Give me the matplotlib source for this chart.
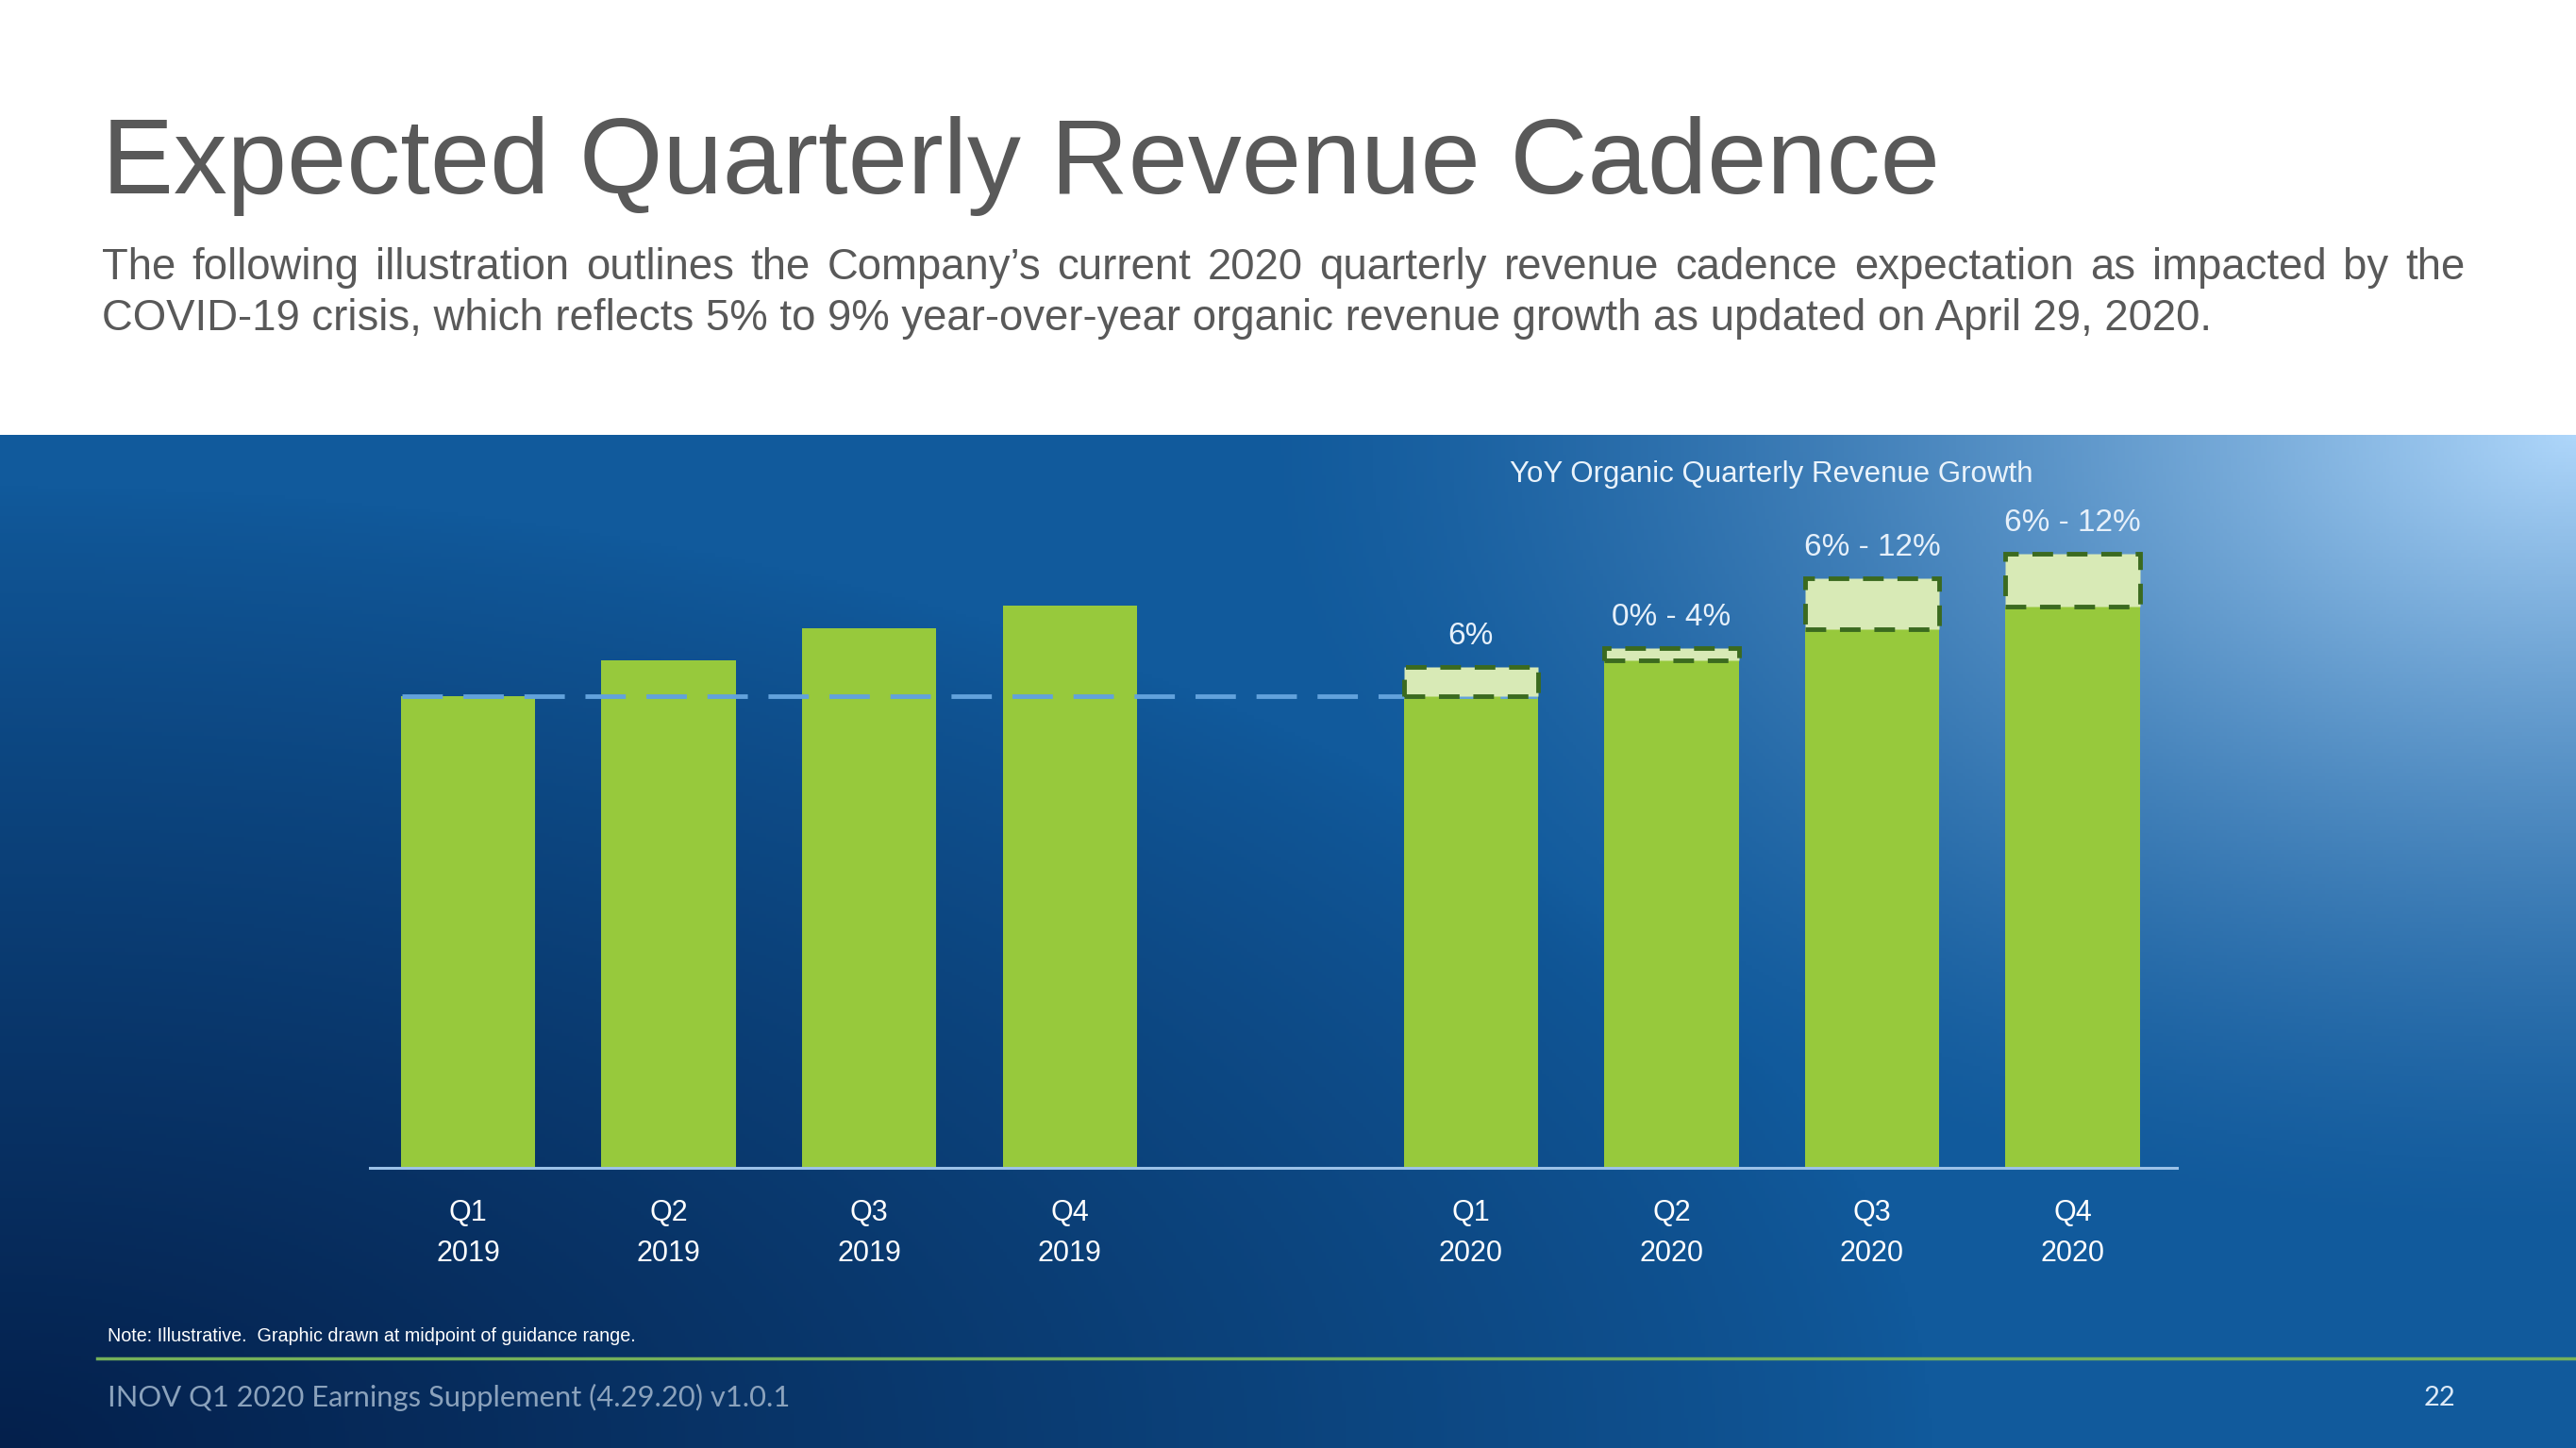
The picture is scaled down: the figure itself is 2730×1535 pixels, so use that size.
import numpy as np
import matplotlib
matplotlib.use('Agg')
import matplotlib.pyplot as plt
from matplotlib.lines import Line2D

# Data (illustrative index, Q1 2019 = 100)
quarters = ['Q1\n2019', 'Q2\n2019', 'Q3\n2019', 'Q4\n2019',
            'Q1\n2020', 'Q2\n2020', 'Q3\n2020', 'Q4\n2020']
positions = [0, 1, 2, 3, 5, 6, 7, 8]
bar_values = [100, 107.6, 114.4, 119.2, 100, 107.6, 114.2, 119.0]
range_low = [100, 107.6, 114.2, 119.0]
range_high = [106.2, 110.2, 125.0, 130.2]
range_labels = ['6%', '0% - 4%', '6% - 12%', '6% - 12%']
baseline_value = 100

W, H = 2730, 1535
font = 'Liberation Sans'
plt.rcParams['font.family'] = [font, 'DejaVu Sans']

fig = plt.figure(figsize=(W / 100, H / 100), dpi=100, facecolor='white')

# gradient background panel
panel_top = 461
bg = fig.add_axes([0, 0, 1, (H - panel_top) / H])
gw, gh = 760, 300
u = np.linspace(0, 1, gw)[None, :]
v = np.linspace(0, 1, gh)[:, None]
base = np.array([0x11, 0x5a, 0x9c]) / 255
dark = np.array([0x04, 0x20, 0x4c]) / 255
light = np.array([0xae, 0xd6, 0xfa]) / 255
dl = np.sqrt(((1 - u) / 0.52) ** 2 + (v / 0.8) ** 2)
wl = np.clip(1 - dl, 0, 1) ** 1.5
dd = np.sqrt((u / 0.75) ** 2 + ((1 - v) / 0.95) ** 2)
wd = np.clip(1 - dd, 0, 1) ** 0.85
img = base + wl[..., None] * (light - base) + wd[..., None] * (dark - base)
bg.imshow(np.clip(img, 0, 1), aspect='auto', extent=[0, 1, 0, 1])
bg.set_axis_off()

# main chart axes
left_px, right_px, base_px, top_px = 392, 2307, 1238, 538
ax = fig.add_axes([left_px / W, (H - base_px) / H,
                   (right_px - left_px) / W, (base_px - top_px) / H])
ax.set_facecolor('none')
ax.set_xlim(-0.49, 8.52)
ax.set_ylim(0, 140)

green = '#97c93c'
ax.bar(positions, bar_values, width=0.67, color=green, zorder=2)

pos_2020 = positions[4:]
heights = [h - l for h, l in zip(range_high, range_low)]
ax.bar(pos_2020, heights, bottom=range_low, width=0.67, color='#d8eab6',
       edgecolor='#3b6a1f', linewidth=3.5, linestyle=(0, (4.5, 3)), zorder=4)

ax.hlines(baseline_value, -0.33, 5.33, color='#62a2dc', linewidth=3.5,
          linestyle=(0, (8.8, 4.5)), zorder=3)

for x, top, lab in zip(pos_2020, range_high, range_labels):
    ax.annotate(lab, xy=(x, top), xytext=(0, 12), textcoords='offset points',
                ha='center', va='bottom', fontsize=24, color='#e6f0fa')

ax.set_xticks(positions, quarters)
ax.tick_params(axis='x', length=0, pad=24, labelsize=22, labelcolor='white')
for t in ax.get_xticklabels():
    t.set_linespacing(1.55)
ax.set_yticks([])
for s in ['left', 'right', 'top']:
    ax.spines[s].set_visible(False)
ax.spines['bottom'].set_color('#9cc2e8')
ax.spines['bottom'].set_linewidth(2.2)

fig.text(1877 / W, 1 - 503 / H, 'YoY Organic Quarterly Revenue Growth',
         ha='center', va='center', fontsize=22.5, color='#eaf3fb')

# title and subtitle
fig.text(108 / W, 1 - 205 / H, 'Expected Quarterly Revenue Cadence',
         ha='left', va='baseline', fontsize=81.9, color='#595959')

sub_kw = dict(fontsize=32.8, color='#595959', va='baseline', ha='left')
line1 = ('The following illustration outlines the Company\u2019s current 2020 '
         'quarterly revenue cadence expectation as impacted by the')
line2 = ('COVID-19 crisis, which reflects 5% to 9% year-over-year organic '
         'revenue growth as updated on April 29, 2020.')

renderer = fig.canvas.get_renderer()
words = line1.split(' ')
texts = [fig.text(0, 1 - 296 / H, w, **sub_kw) for w in words]
widths = [t.get_window_extent(renderer).width for t in texts]
gap = (2612 - 108 - sum(widths)) / (len(words) - 1)
xpos = 108
for t, w in zip(texts, widths):
    t.set_x(xpos / W)
    xpos += w + gap
fig.text(108 / W, 1 - 350 / H, line2, **sub_kw)

# footer
fig.text(114 / W, 1 - 1417 / H,
         'Note: Illustrative.  Graphic drawn at midpoint of guidance range.',
         ha='left', va='center', fontsize=14.2, color='white')
fig.add_artist(Line2D([103 / W, 1], [1 - 1440 / H, 1 - 1440 / H],
                      color='#74b05a', linewidth=2.5))
fig.text(114 / W, 1 - 1481 / H, 'INOV Q1 2020 Earnings Supplement (4.29.20) v1.0.1',
         ha='left', va='center', fontsize=22.2, color='#8ba2bc', family='Lato')
fig.text(2586 / W, 1 - 1482 / H, '22', ha='center', va='center',
         fontsize=21, color='#dce9f7', family='Lato')

fig.savefig('out.png', dpi=100)
